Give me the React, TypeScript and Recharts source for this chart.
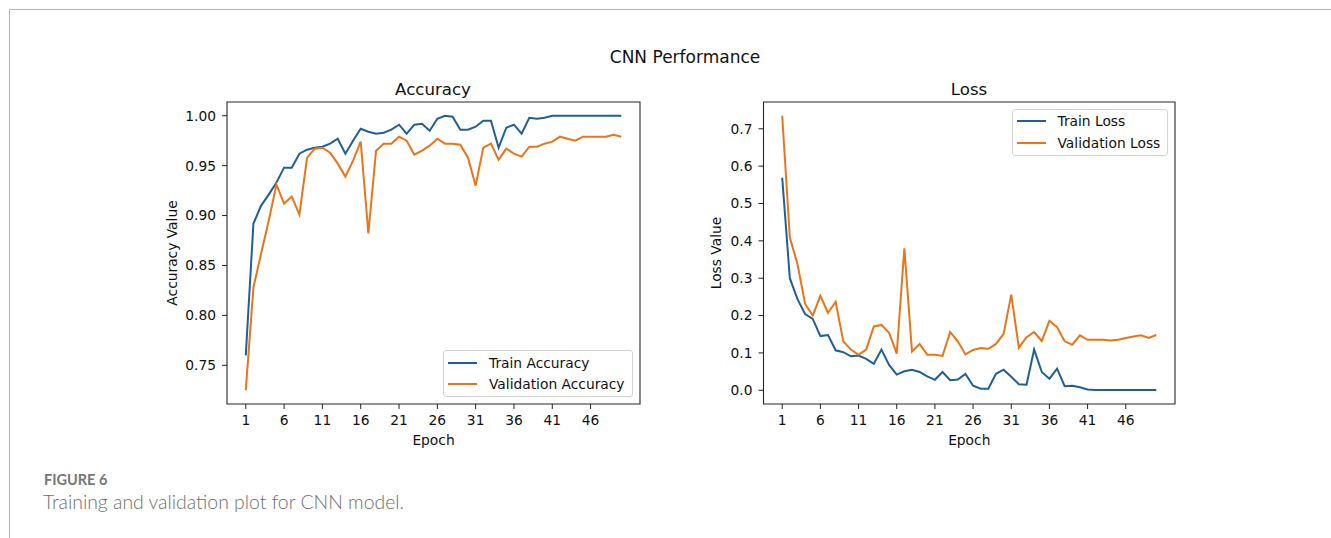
import React from 'react';
import { LineChart, Line, XAxis, YAxis, ReferenceArea, Legend } from 'recharts';

const epochs = [
  1, 2, 3, 4, 5, 6, 7, 8, 9, 10,
  11, 12, 13, 14, 15, 16, 17, 18, 19, 20,
  21, 22, 23, 24, 25, 26, 27, 28, 29, 30,
  31, 32, 33, 34, 35, 36, 37, 38, 39, 40,
  41, 42, 43, 44, 45, 46, 47, 48, 49, 50,
];

const trainAccuracy = [
  0.760, 0.892, 0.910, 0.921, 0.933, 0.948, 0.948, 0.962, 0.966, 0.968,
  0.969, 0.972, 0.977, 0.962, 0.975, 0.987, 0.984, 0.982, 0.983, 0.986,
  0.991, 0.982, 0.991, 0.992, 0.985, 0.997, 1.000, 0.999, 0.986, 0.986,
  0.989, 0.995, 0.995, 0.968, 0.988, 0.991, 0.982, 0.998, 0.997, 0.998,
  1.000, 1.000, 1.000, 1.000, 1.000, 1.000, 1.000, 1.000, 1.000, 1.000,
];

const validationAccuracy = [
  0.725, 0.828, 0.862, 0.895, 0.931, 0.912, 0.919, 0.901, 0.958, 0.967,
  0.968, 0.963, 0.952, 0.939, 0.955, 0.974, 0.882, 0.965, 0.972, 0.972,
  0.979, 0.975, 0.961, 0.965, 0.970, 0.977, 0.972, 0.972, 0.971, 0.958,
  0.930, 0.968, 0.972, 0.956, 0.967, 0.962, 0.959, 0.969, 0.969, 0.972,
  0.974, 0.979, 0.977, 0.975, 0.979, 0.979, 0.979, 0.979, 0.981, 0.979,
];

const trainLoss = [
  0.569, 0.300, 0.244, 0.204, 0.191, 0.145, 0.148, 0.107, 0.102, 0.091,
  0.093, 0.084, 0.071, 0.109, 0.068, 0.042, 0.051, 0.055, 0.049, 0.037,
  0.028, 0.049, 0.027, 0.029, 0.044, 0.012, 0.004, 0.004, 0.044, 0.055,
  0.036, 0.016, 0.015, 0.109, 0.049, 0.031, 0.058, 0.011, 0.012, 0.008,
  0.002, 0.001, 0.001, 0.001, 0.001, 0.001, 0.001, 0.001, 0.001, 0.001,
];

const validationLoss = [
  0.735, 0.409, 0.338, 0.231, 0.200, 0.253, 0.207, 0.237, 0.131, 0.109,
  0.095, 0.109, 0.171, 0.175, 0.154, 0.098, 0.380, 0.104, 0.124, 0.095,
  0.095, 0.092, 0.156, 0.131, 0.096, 0.108, 0.113, 0.111, 0.124, 0.151,
  0.256, 0.114, 0.142, 0.156, 0.132, 0.186, 0.169, 0.131, 0.122, 0.147,
  0.135, 0.135, 0.135, 0.133, 0.135, 0.140, 0.144, 0.147, 0.140, 0.148,
];

const epochTicks = [1, 6, 11, 16, 21, 26, 31, 36, 41, 46];
const accuracyTicks = [0.75, 0.8, 0.85, 0.9, 0.95, 1.0];
const lossTicks = [0, 0.1, 0.2, 0.3, 0.4, 0.5, 0.6, 0.7];

const BLUE = '#1f5f96';
const ORANGE = '#ec7418';
const FONT = '"DejaVu Sans", Verdana, sans-serif';
const CAPTION_FONT = 'Lato, "Open Sans", sans-serif';

const X_DOMAIN: [number, number] = [-1.45, 52.45];
const ACC_DOMAIN: [number, number] = [0.71125, 1.01375];
const LOSS_DOMAIN: [number, number] = [-0.03675, 0.77175];

const accuracyData = epochs.map((e, i) => ({
  epoch: e,
  train: trainAccuracy[i],
  val: validationAccuracy[i],
}));

const lossData = epochs.map((e, i) => ({
  epoch: e,
  train: trainLoss[i],
  val: validationLoss[i],
}));

type Box = { left: number; top: number; width: number; height: number; handleLeft: number; textLeft: number; rowTop: number };

const makeLegend = (box: Box) => (props: any) => {
  const payload = (props && props.payload) || [];
  return (
    <div
      style={{
        position: 'absolute',
        left: 0,
        top: 0,
        width: box.width,
        height: box.height,
        border: '1px solid #d4d4d4',
        borderRadius: 3,
        background: 'rgba(255,255,255,0.85)',
        boxSizing: 'border-box',
      }}
    >
      {payload.map((p: any, i: number) => (
        <div
          key={i}
          style={{ position: 'absolute', left: 0, top: box.rowTop + i * 21.7 - 10, height: 20, width: '100%' }}
        >
          <div
            style={{ position: 'absolute', left: box.handleLeft, top: 9, width: 29, height: 2, background: p.color }}
          />
          <span
            style={{
              position: 'absolute',
              left: box.textLeft,
              top: 0,
              lineHeight: '20px',
              fontSize: 13.8,
              fontFamily: FONT,
              color: '#111',
              whiteSpace: 'nowrap',
            }}
          >
            {p.value}
          </span>
        </div>
      ))}
    </div>
  );
};

const tickStyle = { fontSize: 13.8, fontFamily: FONT, fill: '#111' };
const labelStyle = { fontSize: 13.8, fontFamily: FONT, fill: '#111', textAnchor: 'middle' as const };

type PanelProps = {
  left: number;
  data: any[];
  yDomain: [number, number];
  yTicks: number[];
  yFormat: (v: number) => string;
  yLabel: string;
  yLabelOffset: number;
  marginLeft: number;
  trainName: string;
  valName: string;
  legendBox: Box;
};

function Panel(p: PanelProps) {
  const W = 530;
  const H = 400;
  return (
    <div style={{ position: 'absolute', left: p.left, top: 60, width: W, height: H }}>
      <LineChart
        width={W}
        height={H}
        data={p.data}
        margin={{ top: 42, right: 20, bottom: 11, left: p.marginLeft }}
      >
        <XAxis
          dataKey="epoch"
          type="number"
          domain={X_DOMAIN}
          ticks={epochTicks}
          interval={0}
          allowDataOverflow
          axisLine={false}
          tickLine={{ stroke: '#222', strokeWidth: 1 }}
          tickSize={5}
          tickMargin={6}
          tick={tickStyle}
          height={45}
          label={{ value: 'Epoch', position: 'insideBottom', offset: 4, style: labelStyle }}
        />
        <YAxis
          type="number"
          domain={p.yDomain}
          ticks={p.yTicks}
          interval={0}
          allowDataOverflow
          axisLine={false}
          tickLine={{ stroke: '#222', strokeWidth: 1 }}
          tickSize={5}
          tickMargin={6}
          tick={tickStyle}
          tickFormatter={p.yFormat}
          width={70}
          label={{
            value: p.yLabel,
            angle: -90,
            position: 'insideLeft',
            offset: p.yLabelOffset,
            style: labelStyle,
          }}
        />
        <ReferenceArea
          x1={X_DOMAIN[0]}
          x2={X_DOMAIN[1]}
          y1={p.yDomain[0]}
          y2={p.yDomain[1]}
          fill="none"
          stroke="#262626"
          strokeWidth={1.1}
          ifOverflow="visible"
        />
        <Line
          type="linear"
          dataKey="train"
          name={p.trainName}
          stroke={BLUE}
          strokeWidth={2}
          dot={false}
          isAnimationActive={false}
        />
        <Line
          type="linear"
          dataKey="val"
          name={p.valName}
          stroke={ORANGE}
          strokeWidth={2}
          dot={false}
          isAnimationActive={false}
        />
        <Legend
          layout="vertical"
          align="center"
          verticalAlign="middle"
          wrapperStyle={{
            position: 'absolute',
            left: p.legendBox.left,
            top: p.legendBox.top,
            width: p.legendBox.width,
            height: p.legendBox.height,
          }}
          content={makeLegend(p.legendBox)}
        />
      </LineChart>
    </div>
  );
}

export default function App() {
  return (
    <div
      style={{
        position: 'absolute',
        left: 0,
        top: 0,
        width: 1331,
        height: 538,
        background: '#ffffff',
        overflow: 'hidden',
      }}
    >
      <svg width={1331} height={538} style={{ position: 'absolute', left: 0, top: 0 }}>
        <line x1={9.5} y1={9.5} x2={1331} y2={9.5} stroke="#b4b4b4" strokeWidth={1} />
        <line x1={9.5} y1={9.5} x2={9.5} y2={538} stroke="#b4b4b4" strokeWidth={1} />
        <text x={685} y={63} textAnchor="middle" fontFamily={FONT} fontSize={17} fill="#111">
          CNN Performance
        </text>
        <text x={433} y={95} textAnchor="middle" fontFamily={FONT} fontSize={16.6} fill="#111">
          Accuracy
        </text>
        <text x={969} y={95} textAnchor="middle" fontFamily={FONT} fontSize={16.6} fill="#111">
          Loss
        </text>
        <text x={44} y={485} fontFamily={CAPTION_FONT} fontSize={14.5} fontWeight={700} fill="#767676">
          FIGURE 6
        </text>
        <text x={43} y={509} fontFamily={CAPTION_FONT} fontSize={19.4} fontWeight={300} fill="#6e6e6e">
          Training and validation plot for CNN model.
        </text>
      </svg>
      <Panel
        left={130}
        data={accuracyData}
        yDomain={ACC_DOMAIN}
        yTicks={accuracyTicks}
        yFormat={(v: number) => v.toFixed(2)}
        yLabel="Accuracy Value"
        yLabelOffset={15}
        marginLeft={27}
        trainName="Train Accuracy"
        valName="Validation Accuracy"
        legendBox={{ left: 313, top: 290, width: 190, height: 47, handleLeft: 4, textLeft: 45, rowTop: 11.5 }}
      />
      <Panel
        left={665}
        data={lossData}
        yDomain={LOSS_DOMAIN}
        yTicks={lossTicks}
        yFormat={(v: number) => v.toFixed(1)}
        yLabel="Loss Value"
        yLabelOffset={23}
        marginLeft={28.5}
        trainName="Train Loss"
        valName="Validation Loss"
        legendBox={{ left: 347, top: 49, width: 156, height: 47, handleLeft: 4, textLeft: 44.5, rowTop: 11 }}
      />
    </div>
  );
}
